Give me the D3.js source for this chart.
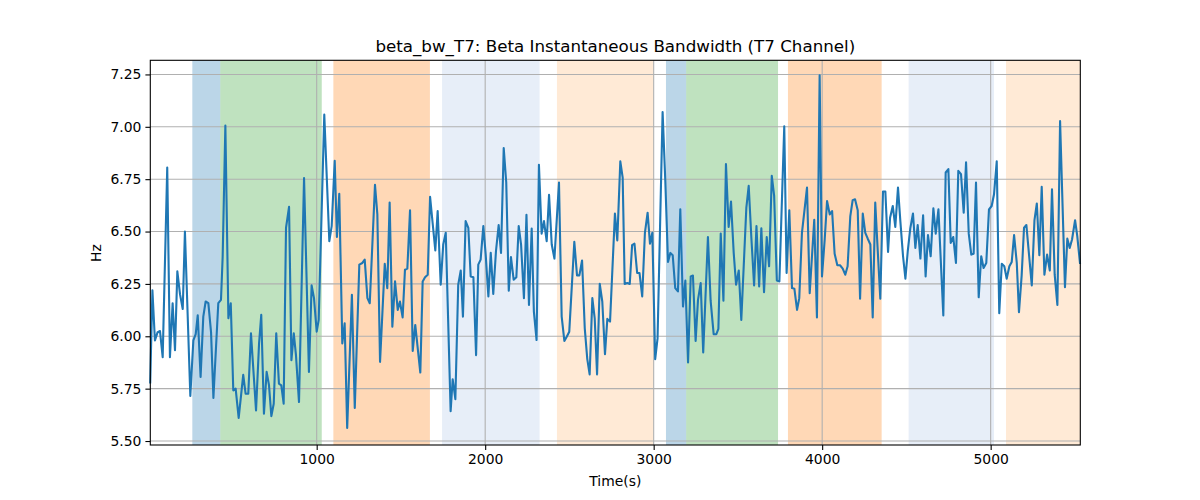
<!DOCTYPE html>
<html><head><meta charset="utf-8">
<script src="https://cdn.jsdelivr.net/npm/d3@7"></script>
<style>body{margin:0;background:#fff}svg{font-family:"DejaVu Sans",sans-serif}</style>
</head><body><svg id="c" width="1200" height="500"></svg>
<script>
const times = [12,25,40,56,70,86,113,129,145,159,173,189,205,218,250,268,282,294,311,327,341,357,373,387,416,432,442,458,476,490,505,519,537,564,578,594,610,640,658,671,687,703,717,731,745,760,776,790,804,818,836,850,864,877,895,925,954,970,984,1000,1012,1045,1075,1089,1107,1120,1134,1152,1166,1181,1209,1226,1253,1271,1285,1301,1315,1346,1360,1376,1404,1419,1433,1449,1465,1481,1494,1510,1524,1538,1554,1570,1585,1615,1629,1643,1659,1673,1688,1704,1718,1736,1751,1766,1795,1807,1823,1840,1855,1868,1884,1900,1914,1930,1946,1959,1973,1989,2003,2019,2033,2048,2064,2080,2094,2110,2125,2140,2153,2169,2185,2199,2213,2230,2245,2260,2276,2289,2305,2319,2335,2349,2365,2379,2395,2411,2438,2454,2470,2484,2499,2529,2545,2559,2575,2591,2606,2620,2636,2650,2664,2680,2695,2711,2725,2741,2770,2784,2802,2816,2828,2843,2858,2872,2886,2902,2916,2932,2948,2964,2978,2992,3009,3023,3053,3069,3085,3099,3113,3128,3144,3158,3174,3188,3204,3220,3233,3249,3263,3279,3294,3322,3338,3356,3372,3384,3398,3414,3429,3445,3459,3475,3489,3505,3520,3550,3564,3580,3596,3610,3626,3639,3655,3671,3685,3701,3715,3731,3746,3775,3789,3805,3821,3835,3851,3864,3880,3910,3926,3953,3969,3985,3999,4015,4029,4045,4059,4074,4090,4106,4122,4137,4151,4167,4181,4195,4211,4225,4241,4256,4270,4286,4300,4315,4330,4345,4361,4375,4391,4403,4419,4434,4450,4464,4480,4494,4508,4523,4539,4553,4567,4583,4599,4614,4628,4644,4660,4674,4690,4706,4719,4733,4749,4763,4778,4794,4808,4824,4840,4854,4870,4885,4899,4913,4929,4944,4958,4974,4990,5006,5020,5036,5051,5066,5081,5095,5111,5125,5139,5155,5168,5184,5198,5212,5244,5260,5274,5289,5303,5319,5335,5351,5364,5380,5396,5412,5441,5455,5469,5483,5501,5514,5530];
const values = [5.78,6.22,5.98,6.02,6.025,5.90,6.806,5.90,6.158,5.934,6.31,6.20,6.13,6.50,5.715,5.98,6.01,6.10,5.806,6.094,6.166,6.158,6.02,5.706,6.158,6.174,6.38,7.006,6.086,6.158,5.742,5.75,5.61,5.816,5.726,5.726,6.014,5.646,5.966,6.102,5.63,5.83,5.766,5.619,5.678,6.014,5.774,5.766,5.678,6.518,6.618,5.886,6.014,5.91,5.686,6.755,5.83,6.243,6.182,6.022,6.078,7.058,6.454,6.526,6.838,6.474,6.68,5.966,6.062,5.562,6.198,5.658,6.342,6.35,6.366,6.182,6.158,6.723,6.582,5.878,6.346,6.23,6.638,6.046,6.262,6.126,6.166,6.09,6.318,6.323,6.602,5.93,6.054,5.827,6.262,6.282,6.294,6.666,6.542,6.41,6.598,6.246,6.438,6.494,5.642,5.795,5.70,6.246,6.314,6.094,6.55,6.518,6.286,6.282,5.91,6.342,6.366,6.526,6.39,6.19,6.398,6.202,6.406,6.531,6.398,6.899,6.734,6.218,6.378,6.27,6.282,6.526,6.438,6.182,6.58,6.15,6.514,6.118,5.982,6.819,6.49,6.55,6.454,6.675,6.438,6.371,6.734,6.094,5.978,5.998,6.022,6.451,6.291,6.291,6.362,6.038,5.891,5.818,6.182,6.086,5.818,6.25,6.166,5.914,6.083,6.07,6.586,6.458,6.835,6.757,6.25,6.254,6.25,6.435,6.442,6.302,6.302,6.19,6.494,6.59,6.442,6.494,5.891,5.99,7.07,6.742,6.355,6.398,6.387,6.23,6.214,6.606,6.142,6.266,5.875,6.286,6.29,5.978,6.174,6.254,5.923,6.474,6.17,6.01,6.01,6.035,6.49,6.17,6.822,6.522,6.643,6.398,6.246,6.314,6.078,6.614,6.718,6.467,6.243,6.526,6.238,6.515,6.211,6.474,6.334,6.766,6.67,6.266,6.262,7.002,6.302,6.602,6.23,6.227,6.126,6.182,6.494,6.71,6.206,6.556,6.09,7.246,6.286,6.462,6.646,6.582,6.598,6.394,6.339,6.339,6.323,6.294,6.334,6.574,6.65,6.654,6.602,6.179,6.586,6.494,6.467,6.438,6.09,6.638,6.406,6.179,6.691,6.691,6.403,6.566,6.622,6.522,6.71,6.55,6.382,6.275,6.406,6.515,6.586,6.422,6.531,6.371,6.578,6.286,6.483,6.382,6.611,6.49,6.606,6.326,6.099,6.782,6.798,6.446,6.474,6.35,6.79,6.774,6.59,6.83,6.49,6.39,6.394,6.734,6.186,6.382,6.326,6.35,6.606,6.622,6.678,6.835,6.11,6.346,6.334,6.275,6.334,6.355,6.483,6.35,6.115,6.291,6.518,6.531,6.243,6.555,6.634,6.387,6.714,6.294,6.39,6.314,6.702,6.294,6.15,7.027,6.234,6.466,6.422,6.462,6.554,6.478,6.35];
const spanStart = [262,428,1099,1744,2426,3073,3193,3797,4513,5091];
const spanEnd   = [428,1030,1672,2323,2998,3193,3738,4353,5020,5532];
const spanKind  = ["a","b","c","d","e","a","b","c","d","e"];
const xTicks = [1000,2000,3000,4000,5000];
const yTicks = [5.50,5.75,6.00,6.25,6.50,6.75,7.00,7.25];
const titleText = "beta_bw_T7: Beta Instantaneous Bandwidth (T7 Channel)";

const kindColor = {a:"#1f77b4",b:"#2ca02c",c:"#ff7f0e",d:"#aec7e8",e:"#ffbb78"};
const L=150.3, R=1080.3, T=60.3, B=445;
const svg = d3.select("#c");
const x = d3.scaleLinear().domain([12.5,5532]).range([L,R]);
const y = d3.scaleLinear().domain([5.481,7.3175]).range([B,T]);

// spans
svg.append("g").selectAll("rect").data(spanStart.map((s,i)=>({s,e:spanEnd[i],k:spanKind[i]})))
  .join("rect").attr("x",d=>x(d.s)).attr("width",d=>x(d.e)-x(d.s))
  .attr("y",T).attr("height",B-T).attr("fill",d=>kindColor[d.k]).attr("fill-opacity",0.3);

// grid
const g = svg.append("g");
g.selectAll("line.gx").data(xTicks).join("line").attr("x1",d=>x(d)).attr("x2",d=>x(d))
  .attr("y1",T).attr("y2",B).attr("stroke","#b0b0b0").attr("stroke-width",1.1);
g.selectAll("line.gy").data(yTicks).join("line").attr("y1",d=>y(d)).attr("y2",d=>y(d))
  .attr("x1",L).attr("x2",R).attr("stroke","#b0b0b0").attr("stroke-width",1.1);

// line
const pts = times.map((t,i)=>[t,values[i]]);
svg.append("path").datum(pts).attr("fill","none").attr("stroke","#1f77b4").attr("stroke-width",2.1)
  .attr("stroke-linejoin","round").attr("stroke-linecap","square")
  .attr("d",d3.line().x(d=>x(d[0])).y(d=>y(d[1])));

// axes
const xa = svg.append("g").attr("transform",`translate(0,${B})`)
  .call(d3.axisBottom(x).tickValues(xTicks).tickSize(4.9).tickPadding(4).tickFormat(d3.format("d")));
const ya = svg.append("g").attr("transform",`translate(${L},0)`)
  .call(d3.axisLeft(y).tickValues(yTicks).tickSize(4.9).tickPadding(4).tickFormat(d3.format(".2f")));
[xa,ya].forEach(a=>{a.select(".domain").remove();
  a.selectAll("text").attr("font-size","13.9px").attr("fill","#000").attr("font-family","DejaVu Sans");
  a.selectAll("line").attr("stroke","#000").attr("stroke-width",1.1);});

// frame
svg.append("rect").attr("x",L).attr("y",T).attr("width",R-L).attr("height",B-T)
  .attr("fill","none").attr("stroke","#000").attr("stroke-width",1.1);

svg.append("text").attr("x",(L+R)/2).attr("y",T-8.5).attr("text-anchor","middle")
  .attr("font-size","16.7px").text(titleText);
svg.append("text").attr("x",(L+R)/2).attr("y",486).attr("text-anchor","middle")
  .attr("font-size","13.9px").text("Time(s)");
svg.append("text").attr("transform","translate(101,253) rotate(-90)").attr("text-anchor","middle")
  .attr("font-size","13.9px").text("Hz");
</script></body></html>
